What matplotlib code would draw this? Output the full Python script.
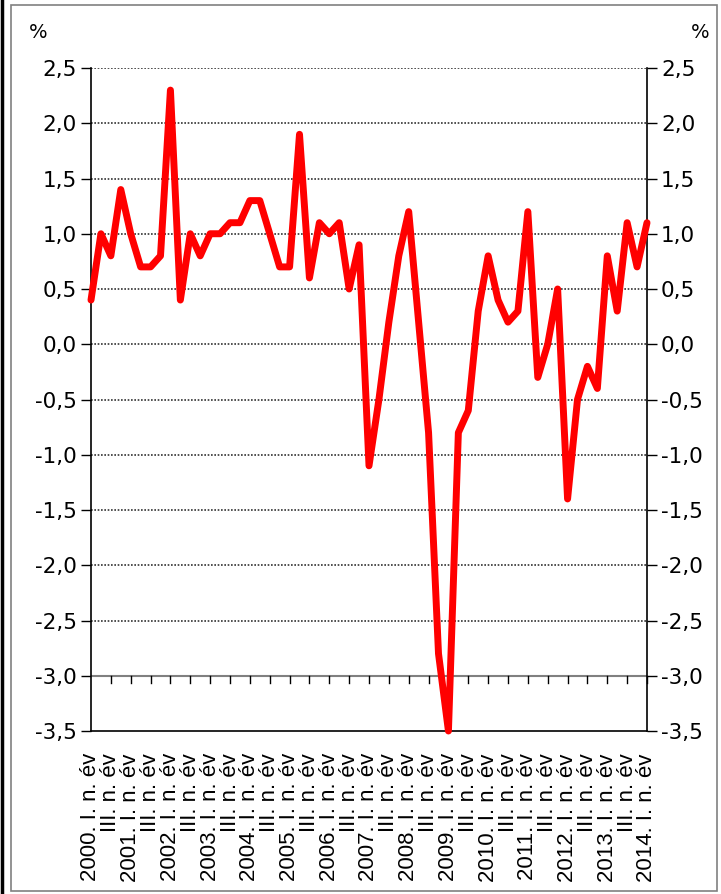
import matplotlib
matplotlib.use("Agg")
import matplotlib.pyplot as plt
from matplotlib.patches import Rectangle
from matplotlib.lines import Line2D

# Quarterly change, %, 2000 Q1 .. 2014 Q1
years = list(range(2000, 2015))
values = [
    0.4, 1.0, 0.8, 1.4,
    1.0, 0.7, 0.7, 0.8,
    2.3, 0.4, 1.0, 0.8,
    1.0, 1.0, 1.1, 1.1,
    1.3, 1.3, 1.0, 0.7,
    0.7, 1.9, 0.6, 1.1,
    1.0, 1.1, 0.5, 0.9,
    -1.1, -0.5, 0.2, 0.8,
    1.2, 0.2, -0.8, -2.8,
    -3.5, -0.8, -0.6, 0.3,
    0.8, 0.4, 0.2, 0.3,
    1.2, -0.3, 0.0, 0.5,
    -1.4, -0.5, -0.2, -0.4,
    0.8, 0.3, 1.1, 0.7,
    1.1,
]
y_ticks = [2.5, 2.0, 1.5, 1.0, 0.5, 0.0, -0.5, -1.0, -1.5, -2.0, -2.5, -3.0, -3.5]

# Category labels: every second quarter is labelled
labels = []
for i in range(len(values)):
    y = years[0] + i // 4
    q = i % 4
    if q == 0:
        labels.append(f"{y}. I. n. év")
    elif q == 2:
        labels.append("III. n. év")
    else:
        labels.append("")

fig = plt.figure(figsize=(7.21, 8.94), dpi=100)
ax = fig.add_axes([91 / 721, 1 - 731 / 894, (647 - 91) / 721, (731 - 68) / 894])

x = list(range(len(values)))
ax.plot(x, values, color="#ff0000", lw=5.0, solid_joinstyle="round",
        solid_capstyle="round", zorder=5, clip_on=False)

ax.set_xlim(0, len(values) - 1)
ax.set_ylim(-3.5, 2.5)

# Dotted horizontal gridlines
for v in y_ticks:
    if v in (-3.5, -3.0):
        continue
    ax.axhline(v, color="#333333", lw=1.2, ls=(0, (1, 1)), zorder=1)

# Category axis crossing at -3.0 with downward ticks
ax.axhline(-3.0, color="#808080", lw=1.5, zorder=2)
tick_pos = [i for i in x if labels[i]]
for t in tick_pos[1:]:
    ax.plot([t, t], [-3.0, -3.0 - 0.065], color="black", lw=1.0, zorder=2,
            clip_on=False)

ax.spines["top"].set_visible(False)
for s in ("left", "right", "bottom"):
    ax.spines[s].set_color("black")
    ax.spines[s].set_linewidth(1.2)

ax.set_yticks(y_ticks)
ylabels = [f"{v:.1f}".replace(".", ",") for v in y_ticks]
ax.set_yticklabels(ylabels)
ax.tick_params(axis="y", which="both", direction="out", length=7, width=1,
               labelsize=15.5, left=True, right=True, labelleft=True,
               labelright=True, pad=3)
for lab in ax.get_yticklabels():
    lab.set_fontfamily("DejaVu Sans")

ax.set_xticks(tick_pos)
ax.set_xticklabels([labels[i] for i in tick_pos], rotation=90,
                   fontfamily="Liberation Sans", fontsize=16)
ax.tick_params(axis="x", length=0, pad=16)

fig.text(38 / 721, 1 - 33 / 894, "%", fontsize=14, ha="center", va="center",
         fontfamily="DejaVu Sans")
fig.text(700 / 721, 1 - 33 / 894, "%", fontsize=14, ha="center", va="center",
         fontfamily="DejaVu Sans")

# Outer frame
fig.patches.append(Rectangle((11 / 721, 1 - 891 / 894), (717 - 11) / 721,
                             (891 - 5) / 894, transform=fig.transFigure,
                             fill=False, edgecolor="#808080", lw=1.2))
fig.lines.append(Line2D([2 / 721, 2 / 721], [0, 1], transform=fig.transFigure,
                        color="black", lw=2.5))

fig.savefig("out.png", dpi=100)
